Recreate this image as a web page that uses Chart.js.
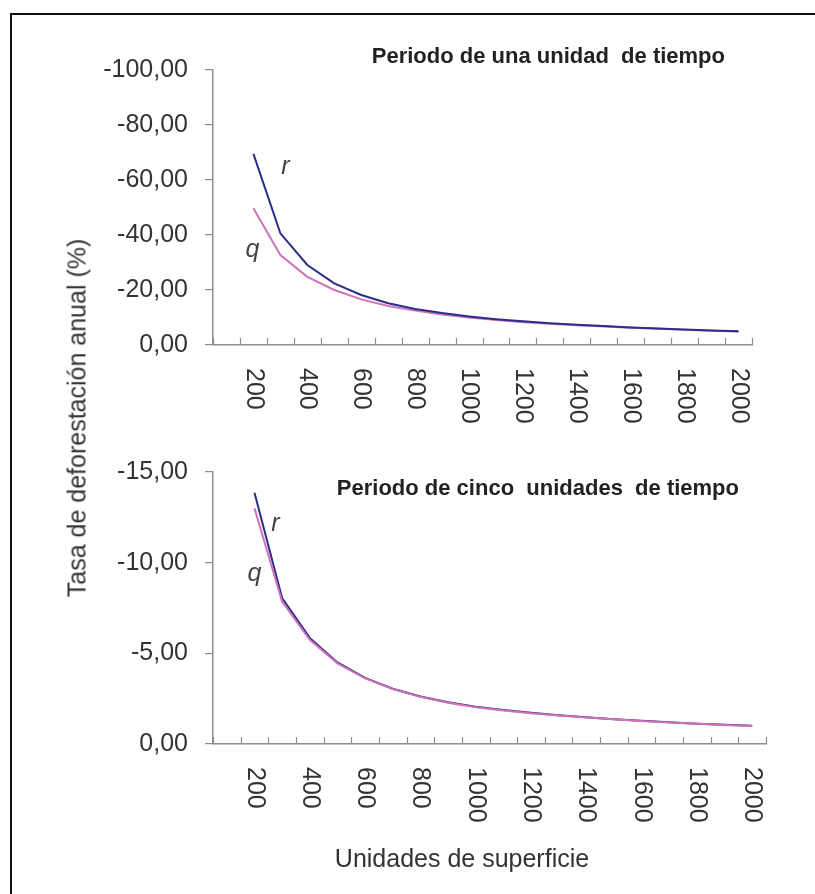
<!DOCTYPE html>
<html>
<head>
<meta charset="utf-8">
<script src="https://cdn.jsdelivr.net/npm/chart.js@4.4.0/dist/chart.umd.min.js"></script>
<style>
  html, body { margin: 0; padding: 0; background: #fff; }
  body { width: 815px; height: 894px; position: relative; overflow: hidden; font-family: "Liberation Sans", Arial, sans-serif; }
  #frame { position: absolute; left: 10px; top: 13px; width: 900px; height: 1000px; border-top: 2px solid #111; border-left: 2px solid #111; }
  .box { position: absolute; left: 0; width: 815px; }
  #top-box { top: 0; height: 440px; }
  #bottom-box { top: 440px; height: 454px; }
  #y-title { position: absolute; left: 77px; top: 418px; transform: translate(-50%, -50%) rotate(-90deg); white-space: nowrap; font-size: 25px; color: #333; }
  #x-title { position: absolute; left: 462px; top: 858px; transform: translate(-50%, -50%); white-space: nowrap; font-size: 25px; color: #333; }
</style>
</head>
<body>
<div id="frame"></div>
<div class="box" id="top-box"><canvas id="topChart"></canvas></div>
<div class="box" id="bottom-box"><canvas id="bottomChart"></canvas></div>
<div id="y-title">Tasa de deforestación anual (%)</div>
<div id="x-title">Unidades de superficie</div>

<script>
// Categories (first slot is an empty category, as in the original)
const categories = ['', '200', '300', '400', '500', '600', '700', '800', '900', '1000',
    '1100', '1200', '1300', '1400', '1500', '1600', '1700', '1800', '1900', '2000'];

// Periodo de una unidad de tiempo
const rOne = [null, -69.5, -40.6, -29.1, -22.4, -18.2, -15.2, -13.1, -11.6, -10.4,
    -9.4, -8.6, -7.9, -7.4, -6.9, -6.4, -6.0, -5.6, -5.3, -5.0];
const qOne = [null, -49.7, -32.7, -24.8, -20.0, -16.6, -14.2, -12.5, -11.1, -10.0,
    -9.1, -8.3, -7.7, -7.2, -6.7, -6.3, -5.9, -5.5, -5.2, -4.9];

// Periodo de cinco unidades de tiempo
const rFive = [null, -13.85, -8.05, -5.85, -4.5, -3.65, -3.05, -2.62, -2.3, -2.05,
    -1.87, -1.72, -1.58, -1.47, -1.37, -1.28, -1.2, -1.12, -1.06, -1.0];
const qFive = [null, -13.0, -7.85, -5.75, -4.45, -3.62, -3.03, -2.6, -2.28, -2.03,
    -1.85, -1.7, -1.57, -1.46, -1.36, -1.27, -1.19, -1.11, -1.05, -0.99];

// Y axis ranges / steps
const yOneTicks = { min: -100, max: 0, step: 20 };
const yFiveTicks = { min: -15, max: 0, step: 5 };

const FONT = '"Liberation Sans", Arial, sans-serif';
const AXIS_COLOR = '#8e8e8e';
const TEXT_COLOR = '#333';
const R_COLOR = '#2b2d86';
const Q_COLOR = '#cf72b8';

// Draws inner tick marks, clockwise-rotated category labels, the panel title and the r / q tags
function panelDecor(cfg) {
    return {
        id: 'panelDecor',
        afterDraw(chart) {
            const { ctx, chartArea } = chart;
            const x = chart.scales.x;
            ctx.save();

            // tick marks pointing into the plot
            ctx.strokeStyle = AXIS_COLOR;
            ctx.lineWidth = 1.2;
            for (let i = 0; i <= categories.length; i++) {
                const px = Math.round(x.getPixelForValue(i - 0.5)) + 0.5;
                ctx.beginPath();
                ctx.moveTo(px, chartArea.bottom);
                ctx.lineTo(px, chartArea.bottom - 7);
                ctx.stroke();
            }

            // category labels, every 200
            ctx.fillStyle = TEXT_COLOR;
            ctx.font = `25px ${FONT}`;
            ctx.textAlign = 'left';
            ctx.textBaseline = 'middle';
            categories.forEach((lab, i) => {
                if (!lab || Number(lab) % 200 !== 0) return;
                ctx.save();
                ctx.translate(x.getPixelForValue(i), chartArea.bottom + 23);
                ctx.rotate(Math.PI / 2);
                ctx.fillText(lab, 0, 0);
                ctx.restore();
            });

            // title
            ctx.fillStyle = '#222';
            ctx.font = `bold 22px ${FONT}`;
            ctx.textAlign = 'right';
            ctx.fillText(cfg.title, chartArea.right - 27, chartArea.top + cfg.titleDy);

            // series tags near the start of each curve
            ctx.fillStyle = '#444';
            ctx.font = `italic 25px ${FONT}`;
            ctx.textAlign = 'center';
            cfg.tags.forEach(t => {
                const meta = chart.getDatasetMeta(t.dataset);
                const pt = meta.data[1];
                ctx.fillText(t.text, pt.x + t.dx, pt.y + t.dy);
            });
            ctx.restore();
        }
    };
}

function makePanel(id, r, q, yRange, layout, cfg) {
    return new Chart(document.getElementById(id), {
        type: 'line',
        data: {
            labels: categories,
            datasets: [
                { label: 'r', data: r, borderColor: R_COLOR, borderWidth: 2, pointRadius: 0, tension: 0, order: cfg.rOrder },
                { label: 'q', data: q, borderColor: Q_COLOR, borderWidth: 2, pointRadius: 0, tension: 0, order: cfg.qOrder }
            ]
        },
        options: {
            responsive: true,
            maintainAspectRatio: false,
            animation: false,
            layout: { padding: { top: layout.top, right: layout.right, left: 0, bottom: 0 } },
            plugins: { legend: { display: false }, tooltip: { enabled: false } },
            scales: {
                x: {
                    type: 'category',
                    offset: true,
                    grid: { display: false, offset: true },
                    border: { display: true, color: AXIS_COLOR, width: 1.5 },
                    ticks: { display: false },
                    afterFit: (s) => { s.height = layout.xHeight; }
                },
                y: {
                    reverse: true,
                    min: yRange.min,
                    max: yRange.max,
                    grid: { drawOnChartArea: false, drawTicks: true, tickLength: 8, color: AXIS_COLOR, lineWidth: 1.2 },
                    border: { display: true, color: AXIS_COLOR, width: 1.5 },
                    ticks: {
                        stepSize: yRange.step,
                        padding: 17,
                        color: TEXT_COLOR,
                        font: { family: FONT, size: 25 },
                        callback: (v) => Number(v).toFixed(2).replace('.', ',')
                    },
                    afterFit: (s) => { s.width = 213; }
                }
            }
        },
        plugins: [panelDecor(cfg)]
    });
}

makePanel('topChart', rOne, qOne, yOneTicks,
    { top: 70, right: 63, xHeight: 95 },
    {
        title: 'Periodo de una unidad  de tiempo', titleDy: -13, rOrder: 0, qOrder: 1,
        tags: [{ text: 'r', dataset: 0, dx: 32, dy: 13 }, { text: 'q', dataset: 1, dx: -1, dy: 42 }]
    });

makePanel('bottomChart', rFive, qFive, yFiveTicks,
    { top: 28, right: 49, xHeight: 150 },
    {
        title: 'Periodo de cinco  unidades  de tiempo', titleDy: 17, rOrder: 1, qOrder: 0,
        tags: [{ text: 'r', dataset: 0, dx: 21, dy: 31 }, { text: 'q', dataset: 1, dx: 0, dy: 66 }]
    });
</script>
</body>
</html>
